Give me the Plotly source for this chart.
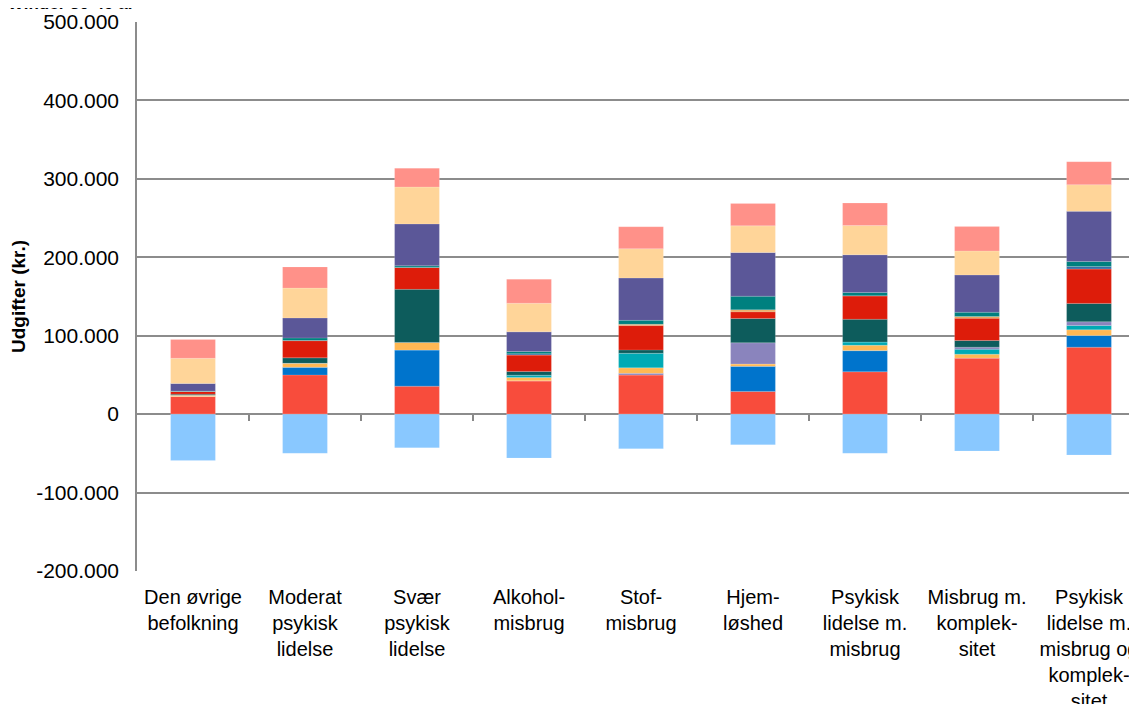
import plotly.graph_objects as go

categories = ["Den øvrige<br>befolkning", "Moderat<br>psykisk<br>lidelse", "Svær<br>psykisk<br>lidelse",
              "Alkohol-<br>misbrug", "Stof-<br>misbrug", "Hjem-<br>løshed",
              "Psykisk<br>lidelse m.<br>misbrug", "Misbrug m.<br>komplek-<br>sitet",
              "Psykisk<br>lidelse m.<br>misbrug og<br>komplek-<br>sitet"]

# values in kr., stacked bottom to top
red_main    = [22500, 50000, 35700, 42500, 50000, 29000, 54000, 71500, 85400]
blue        = [0, 9800, 46000, 0, 0, 32000, 27000, 0, 15000]
lilac_low   = [0, 0, 0, 0, 2000, 0, 0, 0, 0]
orange      = [1500, 5000, 9800, 4200, 7000, 3000, 6800, 5000, 7200]
cyan        = [0, 0, 0, 3000, 18700, 0, 4200, 6400, 5500]
lilac       = [0, 0, 0, 0, 0, 27000, 0, 2500, 4700]
dark_teal   = [1500, 7000, 67600, 4700, 4200, 31000, 29000, 8500, 23400]
dark_red    = [3400, 22000, 28000, 21000, 31000, 8500, 30000, 28500, 44000]
orange_thin = [0, 0, 0, 0, 1700, 2500, 0, 2000, 0]
blue_thin   = [0, 0, 0, 1500, 0, 0, 0, 0, 3000]
teal        = [500, 3400, 2000, 3000, 5000, 17400, 4200, 5500, 6400]
purple      = [9800, 25500, 53500, 25000, 54000, 55700, 48000, 47600, 64000]
peach       = [32000, 38000, 47000, 36500, 37400, 34000, 37400, 30600, 34000]
salmon      = [24000, 27000, 24000, 30600, 28000, 28500, 28500, 31000, 29300]
negative    = [-59000, -50000, -43000, -56000, -44000, -39000, -50000, -47000, -52000]

y_ticks = [-200000, -100000, 0, 100000, 200000, 300000, 400000, 500000]
y_tick_labels = ["-200.000", "-100.000", "0", "100.000", "200.000", "300.000", "400.000", "500.000"]

series = [
    (red_main, "#F84C3C"), (blue, "#0074CC"), (lilac_low, "#8A84BD"), (orange, "#FFB853"),
    (cyan, "#00AAB5"), (lilac, "#8A84BD"), (dark_teal, "#0D5C5C"), (dark_red, "#DD1C0A"),
    (orange_thin, "#E8A050"), (blue_thin, "#3A6EA5"), (teal, "#00807F"), (purple, "#5B5798"),
    (peach, "#FFD599"), (salmon, "#FF9189"), (negative, "#89C8FF"),
]

x = list(range(len(categories)))
fig = go.Figure()
for vals, col in series:
    fig.add_trace(go.Bar(x=x, y=vals, marker=dict(color=col, line=dict(color="rgba(255,255,255,0.3)", width=0.5)),
                         width=0.4, showlegend=False, hoverinfo="skip"))

font = "Liberation Sans, Arial, sans-serif"
fig.update_layout(
    barmode="relative",
    width=1137, height=704,
    margin=dict(l=129, r=0, t=14, b=141),
    paper_bgcolor="white", plot_bgcolor="white",
    font=dict(family=font, size=20, color="#000"),
    xaxis=dict(tickmode="array", tickvals=x, ticktext=categories, range=[-0.5, 8.5],
               showgrid=False, showline=False, zeroline=False, ticks="", automargin=False,
               ticklabeloverflow="allow",
               tickfont=dict(size=20), ticklabelstandoff=12),
    xaxis2=dict(overlaying="x", anchor="free", position=2/7, range=[-0.5, 8.5],
                tickmode="array", tickvals=[i + 0.5 for i in x], ticks="outside", ticklen=6,
                tickwidth=1.5, tickcolor="#888", showticklabels=False, showgrid=False,
                showline=False, zeroline=False, automargin=False),
    yaxis=dict(range=[-200000, 500000], tickmode="array", tickvals=y_ticks, ticktext=y_tick_labels,
               showgrid=True, gridcolor="#8C8C8C", gridwidth=1.5, zeroline=False,
               showline=True, linecolor="#8C8C8C", linewidth=1.5, ticks="", automargin=False,
               ticklabelstandoff=12, tickfont=dict(size=21),
               title=dict(text="<b>Udgifter (kr.)</b>", font=dict(size=19), standoff=7)),
    annotations=[dict(text="<b>Kvinder 30-49 år</b>", xref="paper", yref="paper",
                      x=-0.136, y=1.0125, xanchor="left", yanchor="bottom",
                      showarrow=False, font=dict(size=17))],
)
fig.add_trace(go.Scatter(x=[], y=[], xaxis="x2", showlegend=False))

fig.write_html("out.html")
